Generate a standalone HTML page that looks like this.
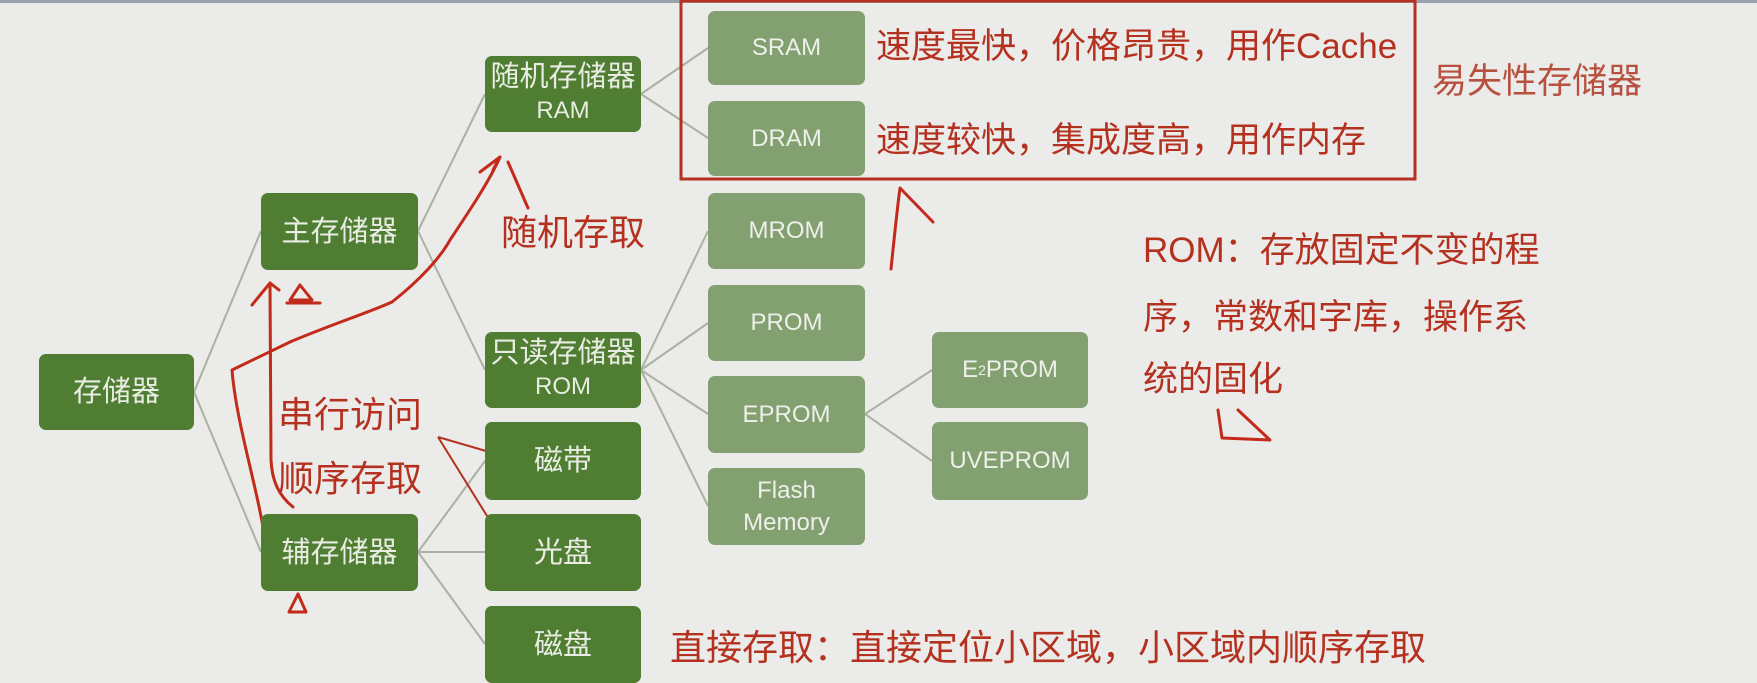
<!DOCTYPE html>
<html><head><meta charset="utf-8"><style>
body{margin:0;width:1757px;height:669px;overflow:hidden;background:#ebebea;font-family:"Liberation Sans","Noto Sans CJK SC",sans-serif;position:relative}
.n{position:absolute;border-radius:7px;color:#e8ece2;display:flex;align-items:center;justify-content:center;text-align:center;font-size:24px;line-height:32px}
.c{font-size:29px}
.d{background:#4f7d31}
.l{background:#83a071;color:#eef0ea}
.t{position:absolute;color:#b5311f;font-size:35px;white-space:nowrap;font-family:"Liberation Sans","Noto Sans CJK SC",sans-serif}
</style></head><body>
<div style="position:absolute;left:0;top:0;width:1757px;height:3px;background:#9aa3ad"></div>
<svg width="1757" height="669" style="position:absolute;left:0;top:0">
<g stroke="#a9b1a3" stroke-width="2" fill="none">
<line x1="194" y1="392" x2="261" y2="231"/><line x1="194" y1="392" x2="261" y2="552"/>
<line x1="418" y1="231" x2="485" y2="94"/><line x1="418" y1="231" x2="485" y2="370"/>
<line x1="418" y1="552" x2="485" y2="461"/><line x1="418" y1="552" x2="485" y2="552"/><line x1="418" y1="552" x2="485" y2="644"/>
<line x1="641" y1="94" x2="708" y2="48"/><line x1="641" y1="94" x2="708" y2="138"/>
<line x1="641" y1="370" x2="708" y2="231"/><line x1="641" y1="370" x2="708" y2="323"/><line x1="641" y1="370" x2="708" y2="414"/><line x1="641" y1="370" x2="708" y2="506"/>
<line x1="865" y1="414" x2="932" y2="370"/><line x1="865" y1="414" x2="932" y2="461"/>
</g>
<rect x="681" y="1" width="734" height="178" fill="none" stroke="#b5311f" stroke-width="3"/>
<g stroke="#c42a1a" stroke-width="3" fill="none" stroke-linecap="round" stroke-linejoin="round">
<path d="M263 527 C255 480 236 420 232 370 L290 342 C330 325 370 312 392 302 C420 280 440 258 450 240 C470 210 490 180 500 157"/>
<path d="M480 172 L500 157 L493 170"/>
<path d="M293 507 C278 495 272 480 271 460 L270 283"/>
<path d="M252 305 L270 283 L279 290"/>
<path d="M290 300 L300 285 L312 300 Z M287 303 L320 303"/>
<path d="M289 612 L298 594 L306 612 Z"/>
<path d="M508 162 L528 208"/>
<path d="M891 269 C894 240 897 210 900 188 L933 222"/>
<path d="M1218 410 L1222 438 L1270 440 L1238 410" />
</g>
<g stroke="#b5311f" stroke-width="2" fill="none">
<path d="M438 437 L510 458 M438 437 L510 553"/>
<path d="M772 252 L831 253" stroke-width="3"/>
</g>
</svg>
<div class="n d c" style="left:39px;top:354px;width:155px;height:76px">存储器</div>
<div class="n d c" style="left:261px;top:193px;width:157px;height:77px">主存储器</div>
<div class="n d c" style="left:261px;top:514px;width:157px;height:77px">辅存储器</div>
<div class="n d" style="left:485px;top:56px;width:156px;height:76px"><div><span class="c">随机存储器</span><br>RAM</div></div>
<div class="n d" style="left:485px;top:332px;width:156px;height:76px"><div><span class="c">只读存储器</span><br>ROM</div></div>
<div class="n d c" style="left:485px;top:422px;width:156px;height:78px">磁带</div>
<div class="n d c" style="left:485px;top:514px;width:156px;height:77px">光盘</div>
<div class="n d c" style="left:485px;top:606px;width:156px;height:77px">磁盘</div>
<div class="n l" style="left:708px;top:11px;width:157px;height:74px">SRAM</div>
<div class="n l" style="left:708px;top:101px;width:157px;height:75px">DRAM</div>
<div class="n l" style="left:708px;top:193px;width:157px;height:76px">MROM</div>
<div class="n l" style="left:708px;top:285px;width:157px;height:76px">PROM</div>
<div class="n l" style="left:708px;top:376px;width:157px;height:77px">EPROM</div>
<div class="n l" style="left:708px;top:468px;width:157px;height:77px">Flash<br>Memory</div>
<div class="n l" style="left:932px;top:332px;width:156px;height:76px">E<sup style="font-size:14px">2</sup>PROM</div>
<div class="n l" style="left:932px;top:422px;width:156px;height:78px">UVEPROM</div>
<div class="t" style="left:876px;top:18px">速度最快，价格昂贵，用作Cache</div>
<div class="t" style="left:876px;top:112px">速度较快，集成度高，用作内存</div>
<div class="t" style="left:1432px;top:53px;color:#b8503f">易失性存储器</div>
<div class="t" style="left:501px;top:204px;font-size:36px">随机存取</div>
<div class="t" style="left:278px;top:386px;font-size:36px">串行访问</div>
<div class="t" style="left:278px;top:450px;font-size:36px">顺序存取</div>
<div class="t" style="left:1143px;top:222px">ROM：存放固定不变的程</div>
<div class="t" style="left:1143px;top:289px">序，常数和字库，操作系</div>
<div class="t" style="left:1143px;top:351px">统的固化</div>
<div class="t" style="left:670px;top:619px;font-size:36px">直接存取：直接定位小区域，小区域内顺序存取</div>
</body></html>
